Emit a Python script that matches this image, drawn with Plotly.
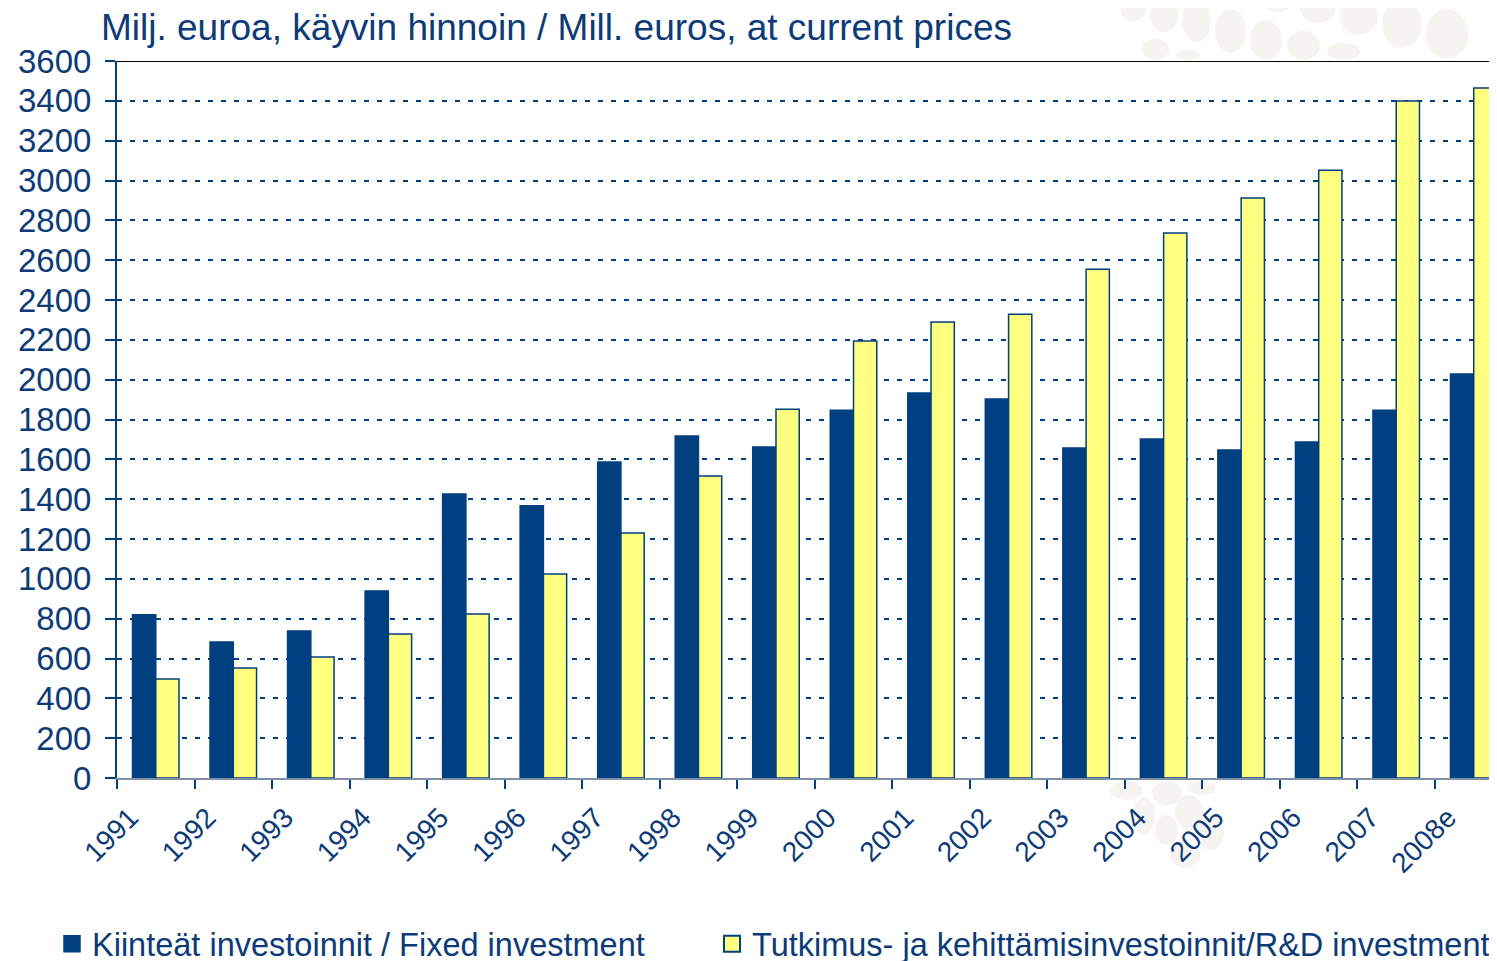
import plotly.graph_objects as go

years = ["1991", "1992", "1993", "1994", "1995", "1996", "1997", "1998", "1999",
         "2000", "2001", "2002", "2003", "2004", "2005", "2006", "2007", "2008e"]
fixed_investment = [820, 683, 738, 939, 1426, 1367, 1586, 1717, 1662,
                    1847, 1933, 1903, 1657, 1702, 1647, 1687, 1847, 2028]
rd_investment = [497, 552, 607, 723, 823, 1024, 1230, 1516, 1852,
                 2194, 2289, 2329, 2555, 2736, 2912, 3052, 3399, 3464]
y_ticks = list(range(0, 3601, 200))
series_names = ["Kiinteät investoinnit / Fixed investment",
                "Tutkimus- ja kehittämisinvestoinnit/R&D investment"]

NAVY = "#003f80"
TEXT = "#0d3b78"
YELLOW = "#ffff80"
FONT = "Liberation Sans, Arial, sans-serif"

# page body adds an 8px offset, so the figure is 8px smaller
OFF = 8
W, H = 1497 - OFF, 961 - OFF
L, R, T, B = 117 - OFF, 0, 61 - OFF, 183
pw, ph = W - L - R, H - T - B

idx = list(range(len(years)))

fig = go.Figure()
fig.add_trace(go.Bar(
    x=idx, y=fixed_investment, name=series_names[0], showlegend=False,
    marker=dict(color=NAVY, line=dict(color=NAVY, width=1.5)),
))
fig.add_trace(go.Bar(
    x=idx, y=rd_investment, name=series_names[1], showlegend=False,
    marker=dict(color=YELLOW, line=dict(color=NAVY, width=1.5)),
))
# legend entries (square swatches)
fig.add_trace(go.Scatter(
    x=[None], y=[None], mode="markers", name=series_names[0], legend="legend",
    marker=dict(symbol="square", size=19, color=NAVY, line=dict(color=NAVY, width=1.5)),
))
fig.add_trace(go.Scatter(
    x=[None], y=[None], mode="markers", name=series_names[1], legend="legend2",
    marker=dict(symbol="square", size=18, color=YELLOW, line=dict(color=NAVY, width=2)),
))

legend_common = dict(
    orientation="h", xanchor="left", yanchor="middle",
    y=(H - B - (944 - OFF)) / ph,
    font=dict(size=32.5, color=TEXT, family=FONT),
    itemsizing="trace", bgcolor="rgba(0,0,0,0)",
)

fig.update_layout(
    width=W, height=H,
    margin=dict(l=L, r=R, t=T, b=B, autoexpand=False),
    paper_bgcolor="white", plot_bgcolor="white",
    barmode="group", bargap=0.4, bargroupgap=0,
    font=dict(family=FONT, color=TEXT),
    title=dict(
        text="Milj. euroa, käyvin hinnoin / Mill. euros, at current prices",
        x=(101 - OFF) / W, xref="container", xanchor="left",
        y=1 - 19 / H, yref="container", yanchor="middle",
        font=dict(size=37, color=TEXT, family=FONT),
        automargin=False,
    ),
    legend=dict(legend_common, x=(52 - OFF - L) / pw),
    legend2=dict(legend_common, x=(712 - OFF - L) / pw),
    xaxis=dict(
        type="linear", automargin=False, range=[-0.5, len(years) - 0.7],
        tickvals=[i - 0.33 for i in idx], ticktext=years, ticks="",
        ticklabelstandoff=10,
        tickangle=-45, tickfont=dict(size=28, color=TEXT, family=FONT),
        minor=dict(tickvals=[i - 0.5 for i in range(len(years) + 1)],
                   ticks="outside", ticklen=9, tickcolor=NAVY, tickwidth=2,
                   showgrid=False),
        showline=True, linecolor="#7f8fa6", linewidth=2,
        showgrid=False, zeroline=False,
    ),
    yaxis=dict(
        range=[0, 3600], tickvals=y_ticks, automargin=False,
        ticks="outside", ticklen=10, tickcolor=NAVY, tickwidth=2,
        ticklabelstandoff=7,
        tickfont=dict(size=33, color=TEXT, family=FONT),
        showline=True, linecolor=NAVY, linewidth=2,
        showgrid=True, gridcolor=NAVY, gridwidth=2, griddash="5px,8px",
        zeroline=False,
    ),
)
fig.add_shape(type="line", xref="paper", yref="y", x0=0, x1=1, y0=3600, y1=3600,
              line=dict(color="black", width=2))

# faint decorative watermark ellipses (screen pixel boxes outside the plot area)
watermark = [
    (1120, -5, 1146, 21), (1150, -2, 1178, 32), (1182, 0, 1211, 42),
    (1215, 9, 1246, 53), (1250, 20, 1282, 60), (1287, 31, 1320, 60),
    (1263, -10, 1293, 12), (1300, -5, 1335, 23), (1340, -3, 1378, 35),
    (1382, 0, 1422, 48), (1426, 9, 1468, 59), (1142, 39, 1169, 60),
    (1176, 50, 1200, 60), (1327, 43, 1360, 60),
    (1110, 781, 1142, 800), (1133, 797, 1155, 835), (1152, 781, 1182, 805),
    (1155, 815, 1178, 845), (1170, 843, 1200, 868), (1175, 795, 1203, 830),
    (1188, 781, 1216, 795), (1197, 815, 1224, 850),
]
for x0, y0, x1, y1 in watermark:
    x0, x1, y0, y1 = x0 - OFF, x1 - OFF, y0 - OFF, y1 - OFF
    fig.add_shape(type="circle", xref="paper", yref="paper", layer="below",
                  x0=(x0 - L) / pw, x1=(x1 - L) / pw,
                  y0=(H - B - y1) / ph, y1=(H - B - y0) / ph,
                  fillcolor="#f5f4f0", line=dict(width=0))

fig.write_html("out.html")
